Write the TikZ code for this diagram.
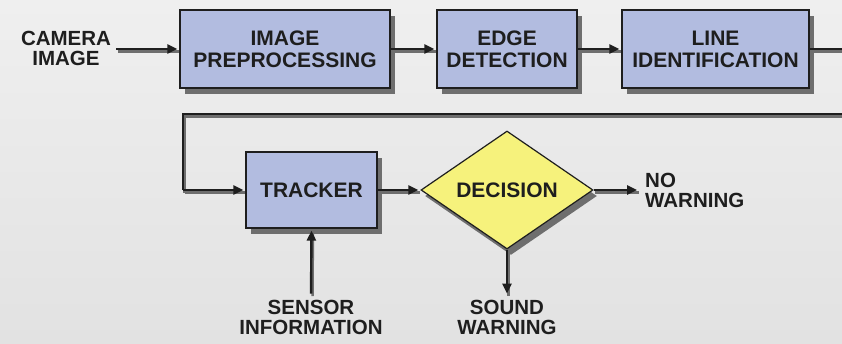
\documentclass[tikz,border=0pt]{standalone}
\usepackage{fontspec}
\setmainfont{Liberation Sans}
\usetikzlibrary{shapes.geometric,arrows.meta,shadows}
\definecolor{bgtop}{HTML}{EFEFEF}
\definecolor{bgbot}{HTML}{E2E2E2}
\definecolor{boxblue}{HTML}{B2BCE0}
\definecolor{decyel}{HTML}{F6F27C}
\definecolor{shad}{HTML}{6E6E6E}
\definecolor{ink}{HTML}{1E1E1E}
\begin{document}
\begin{tikzpicture}[x=1pt,y=-1pt,
  lbl/.style={font=\bfseries\fontsize{20.5}{20}\selectfont, text=ink, align=center, inner sep=0pt},
  blk/.style={draw=ink, line width=1.2pt, fill=boxblue, font=\bfseries\fontsize{21}{22}\selectfont,
    text=ink, align=center, inner sep=0pt,
    drop shadow={shadow xshift=5pt, shadow yshift=-6pt, fill=shad, opacity=1}},
  dec/.style={diamond, draw=ink, line width=1.2pt, fill=decyel, font=\bfseries\fontsize{21}{22}\selectfont,
    text=ink, inner sep=0pt, minimum width=172pt, minimum height=118pt,
    drop shadow={shadow xshift=4pt, shadow yshift=-6pt, fill=shad, opacity=1}},
  conn/.style={line width=2.4pt, draw=ink, -{Triangle[length=10pt,width=9pt]}, shorten >=2pt,
    preaction={draw=shad, -, line width=2.4pt, transform canvas={xshift=1.5pt,yshift=-2.5pt}}},
  plain/.style={line width=2.4pt, draw=ink,
    preaction={draw=shad, line width=2.4pt, transform canvas={xshift=1.5pt,yshift=-2.5pt}}}
]
\shade[top color=bgtop, bottom color=bgbot] (0,0) rectangle (842,343);
\useasboundingbox (0,0) rectangle (842,343);

% top row
\node[lbl] (cam) at (66,48) {CAMERA\\IMAGE};
\node[blk, minimum width=210pt, minimum height=78pt] (pre) at (285,49) {IMAGE\\PREPROCESSING};
\node[blk, minimum width=140pt, minimum height=78pt] (edge) at (507,49) {EDGE\\DETECTION};
\node[blk, minimum width=187pt, minimum height=78pt] (line) at (715.5,49) {LINE\\IDENTIFICATION};

% bottom row
\node[blk, minimum width=131pt, minimum height=76pt] (trk) at (311.5,190) {TRACKER};
\node[dec] (dcs) at (507,190) {DECISION};
\node[lbl, anchor=west, align=left] (nw) at (645,190) {NO\\WARNING};
\node[lbl] (sens) at (311,317) {SENSOR\\INFORMATION};
\node[lbl] (snd) at (507,317) {SOUND\\WARNING};

\coordinate (r1) at (842,49);
\coordinate (r2) at (842,114);
\coordinate (l1) at (183,114);
\coordinate (l2) at (183,190);

% connectors
\draw[conn, shorten <=5pt] (cam.east |- pre.west) -- (pre.west);
\draw[conn] (pre.east) -- (edge.west);
\draw[conn] (edge.east) -- (line.west);
\draw[plain] (line.east) -- (r1);
\draw[plain] (r2) -- (l1) -- (l2);
\draw[conn] (l2) -- (trk.west);
\draw[conn] (trk.east) -- (dcs.west);
\draw[conn, shorten >=8pt] (dcs.east) -- (nw.west);
\draw[conn, shorten >=6pt] (dcs.south) -- (snd.north);
\draw[conn, shorten <=6pt] (sens.north) -- (trk.south);
\end{tikzpicture}
\end{document}
